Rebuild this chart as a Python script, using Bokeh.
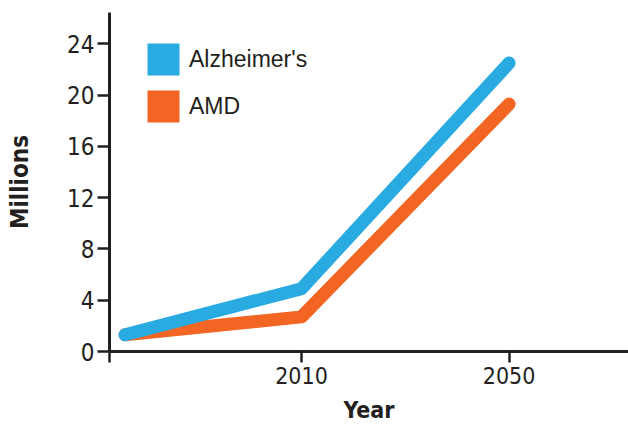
from bokeh.plotting import figure
from bokeh.models import Range1d, FixedTicker, Legend, LegendItem, ColumnDataSource
from bokeh.embed import file_html
from bokeh.resources import INLINE

# ---- data ----
years = [1976, 2010, 2050]
alzheimers = [1.3, 4.9, 22.5]
amd = [1.3, 2.7, 19.3]
series_names = ["Alzheimer's", "AMD"]
series_colors = ["#29ABE2", "#F26522"]
y_ticks = [0, 4, 8, 12, 16, 20, 24]
x_ticks = [1973, 2010, 2050]
x_tick_labels = {1973: "", 2010: "2010", 2050: "2050"}

INK = "#231F20"
NARROW = "'Liberation Sans Narrow', 'DejaVu Sans Condensed', 'Liberation Sans', sans-serif"
REG = "'Liberation Sans', Arial, sans-serif"

p = figure(width=628, height=425, output_backend="svg", toolbar_location=None,
           x_range=Range1d(1973, 2073), y_range=Range1d(0, 26.44),
           min_border_left=109, min_border_right=0, min_border_top=12, min_border_bottom=73)
p.outline_line_color = None
p.xgrid.visible = False
p.ygrid.visible = False
p.background_fill_color = "white"

# lines
p.line(years, amd, line_width=13, line_color=series_colors[1],
       line_cap="round", line_join="round")
p.line(years, alzheimers, line_width=13, line_color=series_colors[0],
       line_cap="round", line_join="round")

# legend swatches (NaN quads: nothing drawn in the plot, only in the legend)
nan = float("nan")
sw_a = p.quad(source=ColumnDataSource(dict(l=[nan], r=[nan], t=[nan], b=[nan])),
              left="l", right="r", top="t", bottom="b",
              fill_color=series_colors[0], line_color=None)
sw_b = p.quad(source=ColumnDataSource(dict(l=[nan], r=[nan], t=[nan], b=[nan])),
              left="l", right="r", top="t", bottom="b",
              fill_color=series_colors[1], line_color=None)
legend = Legend(items=[LegendItem(label=series_names[0], renderers=[sw_a]),
                       LegendItem(label=series_names[1], renderers=[sw_b])],
                location=(34, 225), orientation="vertical",
                glyph_width=40, glyph_height=40, spacing=7, padding=0, margin=0,
                label_standoff=6, label_text_font=REG, label_text_font_size="23px",
                label_text_color=INK, border_line_color=None, background_fill_alpha=0)
p.add_layout(legend, "center")

# axes
for ax in (p.xaxis[0], p.yaxis[0]):
    ax.axis_line_color = INK
    ax.axis_line_width = 3
    ax.major_tick_line_color = INK
    ax.major_tick_line_width = 2.5
    ax.minor_tick_line_color = None
    ax.major_tick_in = 0
    ax.major_label_text_font = NARROW
    ax.major_label_text_color = INK
    ax.axis_label_text_font = NARROW
    ax.axis_label_text_font_style = "bold"
    ax.axis_label_text_color = INK

p.yaxis.ticker = FixedTicker(ticks=y_ticks)
p.yaxis.major_tick_out = 12
p.yaxis.major_label_standoff = 3
p.yaxis.major_label_text_font_size = "24px"
p.yaxis.axis_label = "Millions"
p.yaxis.axis_label_text_font_size = "24px"
p.yaxis.axis_label_standoff = 30

p.xaxis.ticker = FixedTicker(ticks=x_ticks)
p.xaxis.major_label_overrides = x_tick_labels
p.xaxis.major_tick_out = 11
p.xaxis.major_label_standoff = 4
p.xaxis.major_label_text_font_size = "23px"
p.xaxis.axis_label = "Year"
p.xaxis.axis_label_text_font_size = "23px"
p.xaxis.axis_label_standoff = 10

open("out.html", "w").write(file_html(p, INLINE))
